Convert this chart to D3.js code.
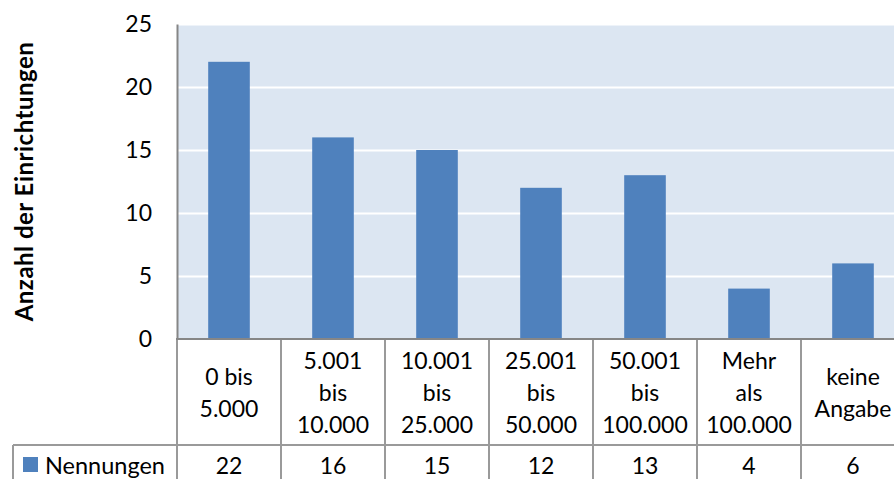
<!DOCTYPE html>
<html>
<head>
<meta charset="utf-8">
<script src="https://cdn.jsdelivr.net/npm/d3@7"></script>
<style>
  html, body { margin: 0; padding: 0; background: #fff; }
  svg { display: block; }
  text { font-family: Lato, "Open Sans", sans-serif; fill: #000; }
</style>
</head>
<body>
<svg id="chart" width="894" height="479"></svg>
<script>
// Size classes of the institutions (line breaks as shown in the table)
const categories = [
  "0 bis\n5.000",
  "5.001\nbis\n10.000",
  "10.001\nbis\n25.000",
  "25.001\nbis\n50.000",
  "50.001\nbis\n100.000",
  "Mehr\nals\n100.000",
  "keine\nAngabe"
];
const seriesName = "Nennungen";
const values = [22, 16, 15, 12, 13, 4, 6];
const yTicks = [0, 5, 10, 15, 20, 25];
const yTitle = "Anzahl der Einrichtungen";

const svg = d3.select("#chart");

const plot = { left: 177, right: 905, top: 24, bottom: 339 };
const tableRow1Bottom = 445;
const tableBottom = 520;
const legendLeft = 13;

const x = d3.scaleBand()
  .domain(categories)
  .range([plot.left, plot.right])
  .paddingInner(0.6)
  .paddingOuter(0.3);

const y = d3.scaleLinear()
  .domain([0, 25])
  .range([plot.bottom, plot.top]);

// Plot background
svg.append("rect")
  .attr("x", plot.left).attr("y", plot.top)
  .attr("width", plot.right - plot.left).attr("height", plot.bottom - plot.top)
  .attr("fill", "#dce6f2");

// White horizontal gridlines
svg.append("g")
  .attr("transform", `translate(${plot.left},0)`)
  .call(d3.axisLeft(y).tickValues(yTicks.filter(d => d > 0)).tickSize(-(plot.right - plot.left)).tickFormat(""))
  .call(g => g.select(".domain").remove())
  .call(g => g.selectAll(".tick line").attr("stroke", "#fff").attr("stroke-width", 2));

// Bars
svg.append("g")
  .selectAll("rect")
  .data(values)
  .join("rect")
  .attr("x", (d, i) => x(categories[i]))
  .attr("y", d => y(d))
  .attr("width", x.bandwidth())
  .attr("height", d => y(0) - y(d))
  .attr("fill", "#4f81bd");

// Y axis
svg.append("g")
  .attr("transform", `translate(${plot.left},0)`)
  .call(d3.axisLeft(y).tickValues(yTicks).tickSize(0).tickPadding(25).tickSizeOuter(0))
  .call(g => g.select(".domain").attr("stroke", "#868686").attr("stroke-width", 2))
  .call(g => g.selectAll(".tick text")
    .style("font-family", "Lato, 'Open Sans', sans-serif")
    .style("font-size", "23px")
    .attr("fill", "#000"));

// Y axis title
svg.append("text")
  .attr("transform", `translate(23,${(plot.top + plot.bottom) / 2}) rotate(-90)`)
  .attr("text-anchor", "middle")
  .attr("dominant-baseline", "central")
  .style("font-size", "24px")
  .style("font-weight", "bold")
  .style("letter-spacing", "0.5px")
  .text(yTitle);

// Data table below the plot
const table = svg.append("g");
const colLeft = c => x(c) + x.bandwidth() / 2 - x.step() / 2;
const colCenter = c => x(c) + x.bandwidth() / 2;
const gridColor = "#9a9a9a";

// Column separators
table.selectAll("line.col")
  .data(categories)
  .join("line")
  .attr("class", "col")
  .attr("x1", c => colLeft(c)).attr("x2", c => colLeft(c))
  .attr("y1", plot.bottom).attr("y2", tableBottom)
  .attr("stroke", gridColor).attr("stroke-width", 2);

// Row separator and legend cell border
table.append("line")
  .attr("x1", legendLeft).attr("x2", plot.right)
  .attr("y1", tableRow1Bottom).attr("y2", tableRow1Bottom)
  .attr("stroke", gridColor).attr("stroke-width", 2);
table.append("line")
  .attr("x1", legendLeft).attr("x2", legendLeft)
  .attr("y1", tableRow1Bottom).attr("y2", tableBottom)
  .attr("stroke", gridColor).attr("stroke-width", 2);

// X axis baseline
svg.append("line")
  .attr("x1", plot.left - 1).attr("x2", plot.right)
  .attr("y1", plot.bottom).attr("y2", plot.bottom)
  .attr("stroke", "#868686").attr("stroke-width", 2);

// Category labels (multi-line, centred in each cell)
const lineHeight = 32;
const labelMid = (plot.bottom + tableRow1Bottom) / 2;
table.selectAll("text.cat")
  .data(categories)
  .join("text")
  .attr("class", "cat")
  .attr("text-anchor", "middle")
  .style("font-size", "23px")
  .each(function (c) {
    const lines = c.split("\n");
    const t = d3.select(this);
    lines.forEach((ln, k) => {
      t.append("tspan")
        .attr("x", colCenter(c))
        .attr("y", labelMid + (k - (lines.length - 1) / 2) * lineHeight)
        .attr("dominant-baseline", "central")
        .text(ln);
    });
  });

// Series values row
const valueMid = 465;
table.selectAll("text.val")
  .data(values)
  .join("text")
  .attr("class", "val")
  .attr("x", (d, i) => colCenter(categories[i]))
  .attr("y", valueMid)
  .attr("text-anchor", "middle")
  .attr("dominant-baseline", "central")
  .style("font-size", "23px")
  .text(d => d);

// Legend key in the table
table.append("rect")
  .attr("x", 23).attr("y", valueMid - 8)
  .attr("width", 15).attr("height", 15)
  .attr("fill", "#4f81bd");
table.append("text")
  .attr("x", 45).attr("y", valueMid)
  .attr("dominant-baseline", "central")
  .style("font-size", "23.5px")
  .text(seriesName);
</script>
</body>
</html>
